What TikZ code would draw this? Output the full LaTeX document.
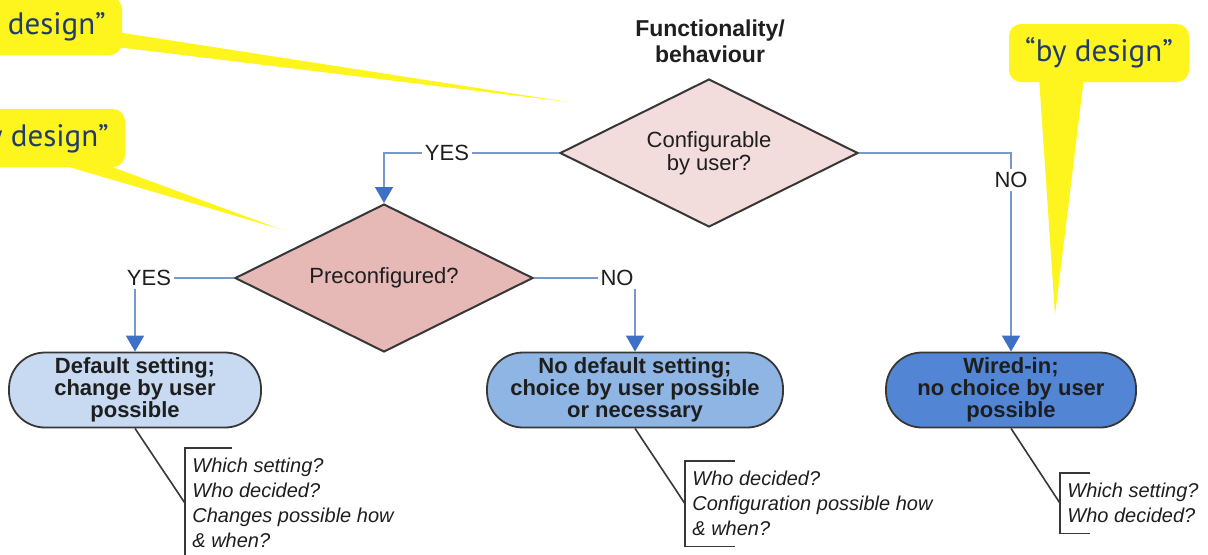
\documentclass[tikz,border=0pt]{standalone}
\usepackage{fontspec}
\usepackage{xcolor}
\usepackage{tikz}
\usetikzlibrary{shapes.geometric,arrows.meta}
\newfontfamily\chartfont{Liberation Sans}
\newfontfamily\calloutfont{PT Sans}
\definecolor{edgegray}{RGB}{55,55,55}
\definecolor{inkgray}{RGB}{30,30,30}
\definecolor{lineblue}{RGB}{120,152,206}
\definecolor{tipblue}{RGB}{62,112,200}
\definecolor{askpink}{RGB}{243,221,220}
\definecolor{presalmon}{RGB}{230,184,182}
\definecolor{paleblue}{RGB}{199,218,241}
\definecolor{midblue}{RGB}{143,181,228}
\definecolor{deepblue}{RGB}{82,134,212}
\definecolor{calloutyellow}{RGB}{255,245,30}
\definecolor{calloutblue}{RGB}{33,58,112}

\begin{document}
\begin{tikzpicture}[
  x=0.5pt, y=-0.5pt,
  font=\chartfont, text=inkgray,
  head/.style={align=center, font=\chartfont\bfseries\fontsize{11.5}{13}\selectfont},
  dec/.style={diamond, aspect=2, draw=edgegray, line width=1pt, minimum width=149pt,
              minimum height=74pt, inner sep=0pt, align=center,
              font=\chartfont\fontsize{11}{11.5}\selectfont},
  pill/.style={draw=edgegray, line width=0.9pt, rounded corners=18pt, minimum height=37.5pt,
               inner sep=0pt, align=center, font=\chartfont\bfseries\fontsize{11}{11}\selectfont},
  note/.style={anchor=north west, align=left, inner xsep=3.5pt, inner ysep=5pt,
               font=\chartfont\itshape\fontsize{10}{12.5}\selectfont},
  lbl/.style={fill=white, inner sep=1.5pt, font=\chartfont\fontsize{11}{11}\selectfont},
  ar/.style={-{Triangle[length=8pt, width=9pt, color=tipblue]}, draw=lineblue, line width=0.8pt},
  brk/.style={draw=edgegray, line width=0.8pt},
  callout/.style={fill=calloutyellow, rounded corners=6pt, minimum width=90pt, minimum height=29pt,
                  text=calloutblue, font=\calloutfont\fontsize{15.5}{15.5}\selectfont},
  tail/.style={fill=calloutyellow}
]
\useasboundingbox (0,0) rectangle (1208,554);
\clip (0,0) rectangle (1208,554);

% Decisions
\node[head] (ttl) at (710,41) {Functionality/\\behaviour};
\node[dec, fill=askpink] (d1) at (709,153) {Configurable\\by user?};
\node[dec, fill=presalmon] (d2) at (384,278) {Preconfigured?};

% Outcomes
\node[pill, fill=paleblue, minimum width=126pt] (deflt) at (135,390) {Default setting;\\change by user\\possible};
\node[pill, fill=midblue, minimum width=148pt] (nodef) at (635,390) {No default setting;\\choice by user possible\\or necessary};
\node[pill, fill=deepblue, minimum width=125pt] (wired) at (1011,390) {Wired-in;\\no choice by user\\possible};

% Questions
\node[note] (n1) at (185,448) {Which setting?\\Who decided?\\Changes possible how\\\& when?};
\node[note] (n2) at (685,461) {Who decided?\\Configuration possible how\\\& when?};
\node[note] (n3) at (1060,473) {Which setting?\\Who decided?};

% Arrows
\draw[ar] (d1.west) -| node[lbl, pos=0.32] {YES} (d2.north);
\draw[ar] (d1.east) -| node[lbl, pos=0.568] {NO} (wired.north);
\draw[ar] (d2.west) -| node[lbl, pos=0.5, xshift=7pt] {YES} (deflt.north);
\draw[ar] (d2.east) -| node[lbl, pos=0.5, xshift=-9pt] {NO} (nodef.north);

% Brackets
\draw[brk] (deflt.south) -- (n1.west);
\draw[brk] ([xshift=23.5pt]n1.north west) -- (n1.north west) -- (n1.south west) -- ++(23.5pt,0);
\draw[brk] (nodef.south) -- (n2.west);
\draw[brk] ([xshift=25pt]n2.north west) -- (n2.north west) -- (n2.south west) -- ++(25pt,0);
\draw[brk] (wired.south) -- (n3.west);
\draw[brk] ([xshift=15pt]n3.north west) -- (n3.north west) -- (n3.south west) -- ++(15pt,0);

% Callouts
\node[callout] (c1) at (32,26) {“by design”};
\node[callout] (c2) at (35,138) {“by design”};
\node[callout] (c3) at (1099,53) {“by design”};
\coordinate (t1) at (568,102);
\coordinate (t2) at (280,229);
\coordinate (t3) at (1055,315);
\fill[tail] ([shift={(-6,6)}]c1.east) -- (t1) -- ([shift={(-6,21)}]c1.east) -- cycle;
\fill[tail] ([shift={(15,-6)}]c2.south) -- (t2) -- ([shift={(62,-6)}]c2.south) -- cycle;
\fill[tail] ([shift={(-60,-5)}]c3.south) -- (t3) -- ([shift={(-15,-5)}]c3.south) -- cycle;
\end{tikzpicture}
\end{document}
